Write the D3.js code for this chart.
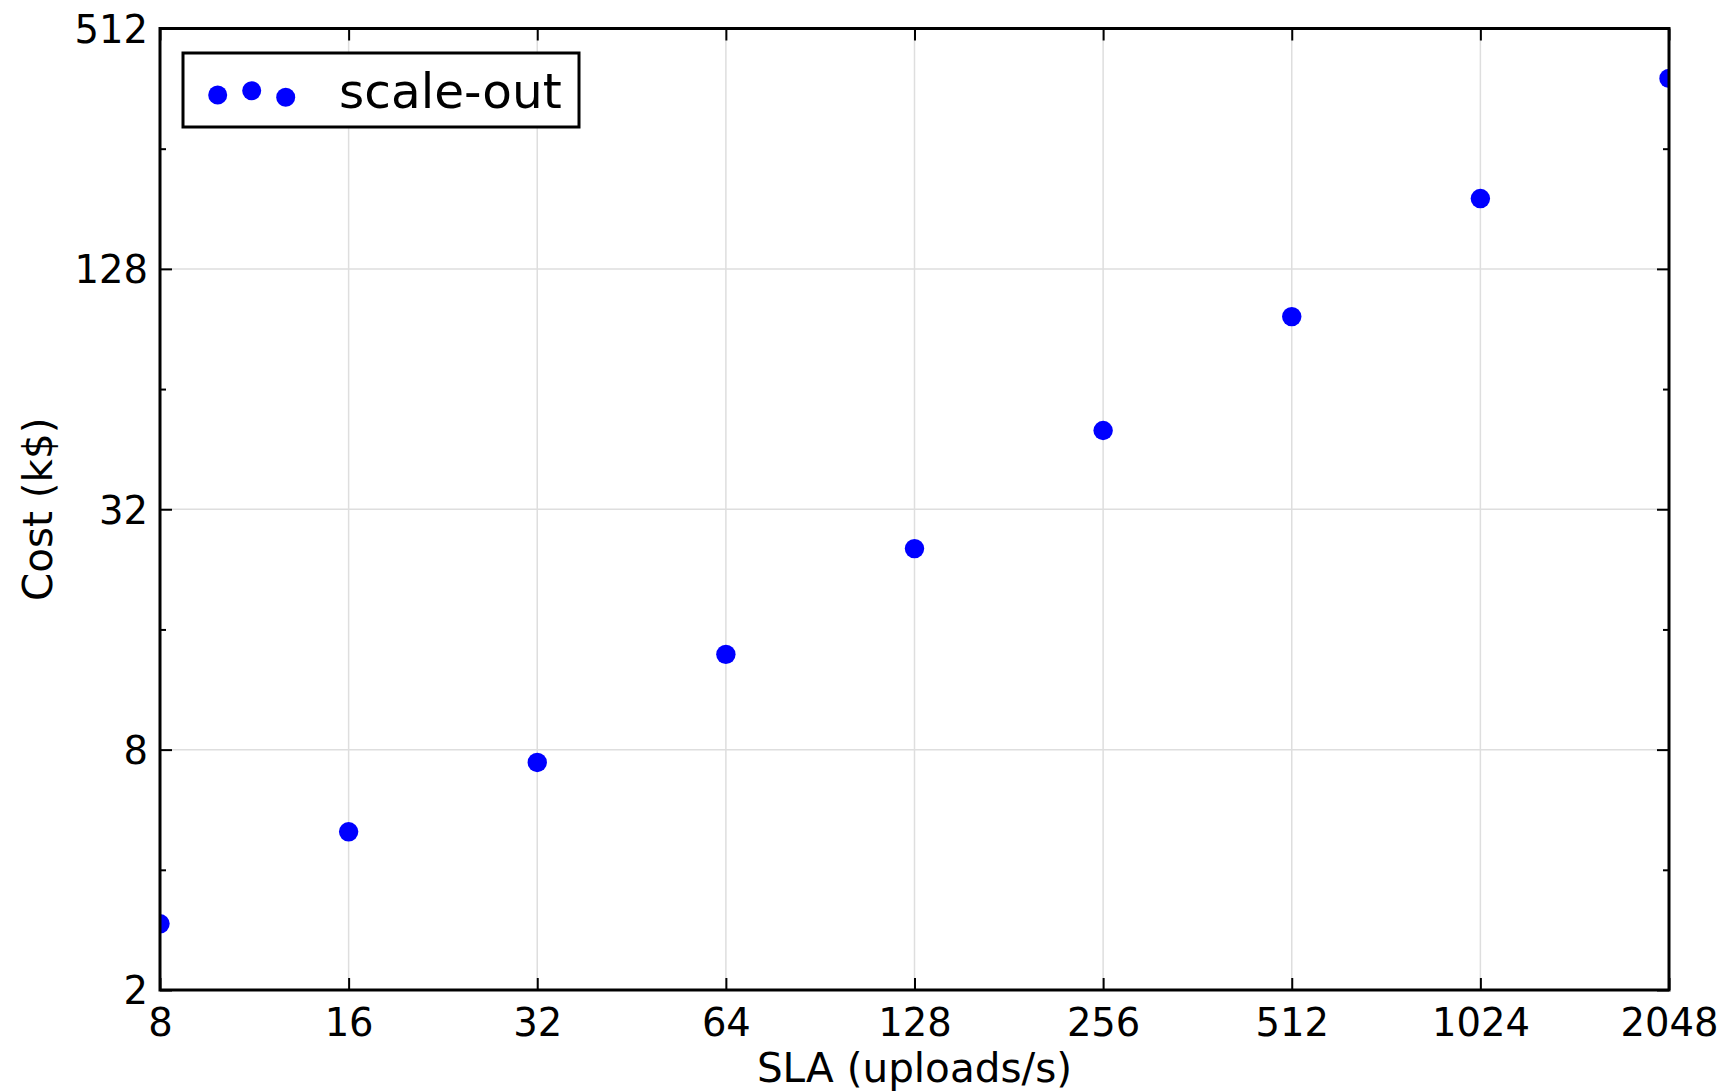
<!DOCTYPE html>
<html><head><meta charset="utf-8">
<script src="https://cdn.jsdelivr.net/npm/d3@7/dist/d3.min.js"></script>
<style>
html,body{margin:0;padding:0;background:#fff;}
text{font-family:"DejaVu Sans",sans-serif;fill:#000;}
</style></head>
<body>
<svg id="chart" width="1730" height="1092"></svg>
<script>
const slaValues = [8, 16, 32, 64, 128, 256, 512, 1024, 2048];
const costValues = [2.93, 4.98, 7.43, 13.86, 25.5, 50.4, 97.2, 192, 384];
const xTicks = [8, 16, 32, 64, 128, 256, 512, 1024, 2048];
const yMajorTicks = [2, 8, 32, 128, 512];
const yMinorTicks = [4, 16, 64, 256];
const seriesName = "scale-out";

const svg = d3.select("#chart");
const L = 160, R = 1669, T = 28.5, B = 990;
const x = d3.scaleLog().base(2).domain([8, 2048]).range([L, R]);
const y = d3.scaleLog().base(2).domain([2, 512]).range([B, T]);

svg.append("defs").append("clipPath").attr("id", "plotclip")
  .append("rect").attr("x", L).attr("y", T).attr("width", R - L).attr("height", B - T);

// grid
const g = svg.append("g");
g.selectAll(".gx").data(xTicks.slice(1, -1)).enter().append("line")
  .attr("x1", d => x(d)).attr("x2", d => x(d)).attr("y1", T).attr("y2", B)
  .attr("stroke", "#dedede").attr("stroke-width", 1.5);
g.selectAll(".gy").data(yMajorTicks.slice(1, -1)).enter().append("line")
  .attr("y1", d => y(d)).attr("y2", d => y(d)).attr("x1", L).attr("x2", R)
  .attr("stroke", "#dedede").attr("stroke-width", 1.5);

// axes with inward ticks
const fmt = d => String(d);
const axB = svg.append("g").attr("transform", `translate(0,${B})`)
  .call(d3.axisBottom(x).tickValues(xTicks).tickFormat(fmt).tickSizeInner(-12).tickSizeOuter(0).tickPadding(18));
const axT = svg.append("g").attr("transform", `translate(0,${T})`)
  .call(d3.axisTop(x).tickValues(xTicks).tickFormat("").tickSizeInner(-12).tickSizeOuter(0));
const axL = svg.append("g").attr("transform", `translate(${L},0)`)
  .call(d3.axisLeft(y).tickValues(yMajorTicks).tickFormat(fmt).tickSizeInner(-12).tickSizeOuter(0).tickPadding(12));
const axR = svg.append("g").attr("transform", `translate(${R},0)`)
  .call(d3.axisRight(y).tickValues(yMajorTicks).tickFormat("").tickSizeInner(-12).tickSizeOuter(0));
const axLm = svg.append("g").attr("transform", `translate(${L},0)`)
  .call(d3.axisLeft(y).tickValues(yMinorTicks).tickFormat("").tickSizeInner(-6).tickSizeOuter(0));
const axRm = svg.append("g").attr("transform", `translate(${R},0)`)
  .call(d3.axisRight(y).tickValues(yMinorTicks).tickFormat("").tickSizeInner(-6).tickSizeOuter(0));
[axB, axT, axL, axR, axLm, axRm].forEach(a => {
  a.select(".domain").remove();
  a.selectAll(".tick line").attr("stroke", "#000").attr("stroke-width", 2);
  a.selectAll(".tick text").attr("font-size", 38.5).attr("font-family", "DejaVu Sans").attr("fill", "#000");
});
axL.selectAll(".tick text").attr("dy", "0.36em");
axB.selectAll(".tick text").attr("dy", "0.72em");

// points (clipped to the plot area)
svg.append("g").attr("clip-path", "url(#plotclip)").selectAll("circle")
  .data(slaValues.map((s, i) => [s, costValues[i]])).enter()
  .append("circle").attr("cx", d => x(d[0])).attr("cy", d => y(d[1])).attr("r", 9.7)
  .attr("fill", "#0000ff");

// frame
svg.append("rect").attr("x", L).attr("y", T).attr("width", R - L).attr("height", B - T)
  .attr("fill", "none").attr("stroke", "#000").attr("stroke-width", 3);

// labels
svg.append("text").attr("x", (L + R) / 2).attr("y", 1082).attr("text-anchor", "middle")
  .attr("font-size", 40.5).text("SLA (uploads/s)");
svg.append("text").attr("transform", `translate(52,${(T + B) / 2}) rotate(-90)`).attr("text-anchor", "middle")
  .attr("font-size", 40.5).text("Cost (k$)");

// legend
const lg = svg.append("g");
lg.append("rect").attr("x", 183).attr("y", 53).attr("width", 396).attr("height", 74)
  .attr("fill", "#fff").attr("stroke", "#000").attr("stroke-width", 3);
const legendDots = [[217.7, 95], [251.7, 90.7], [285.7, 97.3]];
lg.selectAll("circle").data(legendDots).enter().append("circle")
  .attr("cx", d => d[0]).attr("cy", d => d[1]).attr("r", 9.5).attr("fill", "#0000ff");
lg.append("text").attr("x", 339).attr("y", 108).attr("font-size", 48.5).text(seriesName);
</script>
</body></html>
